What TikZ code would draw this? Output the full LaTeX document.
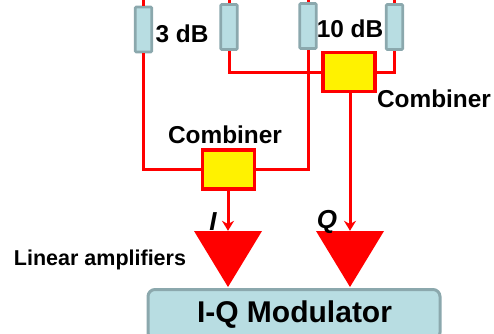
\documentclass[tikz,border=0pt]{standalone}
\usepackage{fontspec}
\setmainfont{Liberation Sans}
\usetikzlibrary{arrows.meta}
\tikzset{
  atten/.style={draw=atgrey,fill=atblue,line width=2.8pt,rounded corners=1pt,minimum width=16.5pt,minimum height=45pt,inner sep=0pt},
  comb/.style={draw=red,fill=yellow,line width=3.6pt,minimum width=52pt,minimum height=39pt,inner sep=0pt},
  wire/.style={red,line width=3pt},
  amp/.style={fill=red,draw=none},
  lab/.style={font=\fontsize{24.4}{24}\selectfont\bfseries,inner sep=0pt},
}
\definecolor{atgrey}{RGB}{139,168,173}
\definecolor{atblue}{RGB}{184,221,226}
\begin{document}
\begin{tikzpicture}[x=1pt,y=-1pt,>=stealth]
  \useasboundingbox (0,0) rectangle (494,333);
  % modulator at the bottom
  \node[draw=atgrey,fill=atblue,line width=3pt,rounded corners=7pt,minimum width=292pt,minimum height=50pt,inner sep=0pt] (mod) at (294,314.5) {};
  \node[font=\fontsize{30}{30}\selectfont\bfseries,inner sep=0pt] (modlab) at (294.5,315) {I-Q Modulator};
  % attenuators
  \foreach \n/\x/\y in {1/143.5/29.5,2/229/27,3/308/26,4/394.5/27} {
    \node[atten] (at\n) at (\x,\y) {};
    \coordinate (top\n) at (\x,0);
    \draw[wire] (top\n) -- (at\n.north);
  }
  % combiners
  \node[comb] (comb1) at (228.5,169.5) {};
  \node[comb] (comb2) at (349,72) {};
  \draw[wire] (at1.south) |- (comb1.west);
  \draw[wire] (at3.south) |- (comb1.east);
  \draw[wire] (at2.south) |- (comb2.west);
  \draw[wire] (at4.south) |- (comb2.east);
  % amplifiers
  \node[amp,minimum size=0pt,inner sep=0pt] (ampI) at (228,231) {};
  \node[amp,minimum size=0pt,inner sep=0pt] (ampQ) at (350,231) {};
  \fill[red] (ampI) ++(-34,0) -- ++(68,0) -- ++(-34,56) -- cycle;
  \fill[red] (ampQ) ++(-34,0) -- ++(68,0) -- ++(-34,56) -- cycle;
  \draw[wire,-{Stealth[length=10pt,width=12pt]}] (comb1.south -| ampI) -- (ampI);
  \draw[wire,-{Stealth[length=10pt,width=12pt]}] (comb2.south -| ampQ) -- (ampQ);
  % labels
  \node[lab] (db3) at (182,33.5) {3 dB};
  \node[lab] (db10) at (350,28.5) {10 dB};
  \node[lab] (lab1) at (225,134.5) {Combiner};
  \node[lab] (lab2) at (434,98.5) {Combiner};
  \node[font=\fontsize{21.5}{22}\selectfont\bfseries,inner sep=0pt] (linamp) at (100,259.5) {Linear amplifiers};
  \node[font=\fontsize{26}{26}\selectfont\bfseries\itshape,inner sep=0pt] (labI) at (213,221.5) {I};
  \node[font=\fontsize{26}{26}\selectfont\bfseries\itshape,inner sep=0pt] (labQ) at (327,221.5) {Q};
\end{tikzpicture}
\end{document}
